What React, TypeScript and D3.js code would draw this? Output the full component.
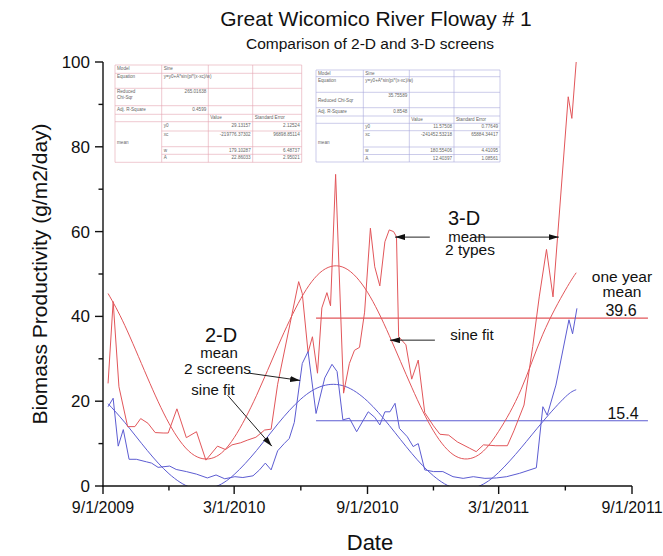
import React from 'react';
import * as d3 from 'd3';

const WIDTH = 663;
const HEIGHT = 556;

const xTickLabels = ['9/1/2009', '3/1/2010', '9/1/2010', '3/1/2011', '9/1/2011'];
const xMinorTicks = ['12/1/2009', '6/1/2010', '12/1/2010', '6/1/2011'];
const yTicks = [0, 20, 40, 60, 80, 100];
const yMinorTicks = [10, 30, 50, 70, 90];

// 3-D mean (2 types)
const redDates = ['2009-09-08','2009-09-15','2009-09-23','2009-10-05','2009-10-15','2009-10-23','2009-11-02','2009-11-12','2009-11-23','2009-11-30','2009-12-12','2009-12-25','2010-01-08','2010-01-21','2010-02-06','2010-02-17','2010-02-26','2010-03-10','2010-03-19','2010-03-31','2010-04-12','2010-04-21','2010-04-30','2010-05-29','2010-06-03','2010-06-11','2010-06-17','2010-06-24','2010-06-30','2010-07-07','2010-07-12','2010-07-19','2010-07-30','2010-08-07','2010-08-14','2010-08-21','2010-08-28','2010-09-05','2010-09-11','2010-09-18','2010-09-25','2010-10-01','2010-10-07','2010-10-11','2010-10-14','2010-10-24','2010-11-01','2010-11-10','2010-11-19','2010-12-01','2010-12-10','2010-12-22','2011-01-03','2011-01-20','2011-01-29','2011-02-08','2011-02-25','2011-03-13','2011-03-22','2011-04-05','2011-04-17','2011-04-26','2011-05-06','2011-05-15','2011-06-05','2011-06-10','2011-06-16'];
const redValues = [24.2,43.5,23.4,14,14,15.9,14.8,12.6,12.5,12.5,18.2,11.4,12.8,6.1,9.4,8.6,9.7,10.2,10.8,11.5,13.2,13.4,24,48.2,45.4,31.5,35.2,26.6,42,45.6,42.5,73.5,21.9,28.9,32,32.7,41,60.8,51.7,47.2,57.6,60.4,60,58.8,35.2,33.3,25.2,29.7,17.3,14.2,12.2,12,10.4,8.9,8.1,9.7,9.5,9.5,13,19.1,32.9,44.6,55.8,44.6,91.8,86.7,100];

// 2-D mean (2 screens)
const blueDates = ['2009-09-08','2009-09-15','2009-09-22','2009-09-29','2009-10-07','2009-10-17','2009-10-31','2009-11-07','2009-11-16','2009-12-02','2009-12-11','2009-12-25','2010-01-08','2010-01-23','2010-02-04','2010-02-16','2010-03-02','2010-03-13','2010-03-27','2010-04-05','2010-04-13','2010-04-21','2010-04-30','2010-05-09','2010-05-16','2010-05-23','2010-06-03','2010-06-11','2010-06-22','2010-07-04','2010-07-14','2010-07-21','2010-07-29','2010-08-07','2010-08-17','2010-09-02','2010-09-11','2010-09-18','2010-09-25','2010-10-02','2010-10-09','2010-10-15','2010-10-26','2010-11-03','2010-11-10','2010-11-19','2010-12-01','2010-12-14','2010-12-28','2011-01-11','2011-01-25','2011-02-10','2011-02-26','2011-03-12','2011-03-30','2011-04-22','2011-05-01','2011-05-07','2011-05-19','2011-06-06','2011-06-11','2011-06-17'];
const blueValues = [18.7,20.7,9.4,13.3,6.3,6.3,5.7,5.4,4.4,4.7,3.9,3.4,2.8,1.9,2.6,1.7,2.2,2.0,2.4,3.8,5.4,3.8,8.3,10,11.2,15,28.9,31.7,17.1,25.5,28.7,27,15.6,16,12.8,17.5,16.2,14.4,17.5,17.5,19.5,13.6,11.6,9.3,10,3.8,3.4,3.4,2.2,1.8,2.2,1.8,1.9,2.2,3.0,4.3,18.7,16.7,23.8,39.2,35.9,41.9];

// sine fit curves
const fitDates = ['2009-09-08','2009-10-01','2009-11-01','2009-12-01','2010-01-01','2010-02-01','2010-03-01','2010-04-01','2010-05-01','2010-06-01','2010-07-01','2010-08-01','2010-09-01','2010-10-01','2010-11-01','2010-12-01','2011-01-01','2011-02-01','2011-03-01','2011-04-01','2011-05-01','2011-06-01','2011-06-16'];
const redFit = [45.4,37.9,25.7,14.8,7.7,6.7,11.4,21.4,33.2,44.2,50.8,51.4,45.7,35.5,23.3,13.0,7.0,7.3,12.9,22.8,35.8,46.2,50.3];
const blueFit = [19.4,15.0,8.4,2.9,-0.4,-0.3,2.7,8.4,14.8,20.5,23.6,23.5,20.0,14.3,7.7,2.4,-0.6,-0.1,3.2,9.0,15.2,21.0,22.7];

// one year means
const meanDates = ['2010-06-22', '2011-09-23'];
const redMean = 39.6;
const blueMean = 15.4;

// fit tables
const table1Rows = [
  ['Model', 'Sine', '', ''],
  ['Equation', 'y=y0+A*sin(pi*(x-xc)/w)', '', ''],
  ['Reduced\nChi-Sqr', '265.01638', '', ''],
  ['Adj. R-Square', '0.4599', '', ''],
  ['', '', 'Value', 'Standard Error'],
  ['', 'y0', '29.13157', '2.12524'],
  ['', 'xc', '-219776.37302', '96898.85114'],
  ['', 'w', '179.10287', '6.48737'],
  ['', 'A', '22.86033', '2.95021'],
];
const table2Rows = [
  ['Model', 'Sine', '', ''],
  ['Equation', 'y=y0+A*sin(pi*(x-xc)/w)', '', ''],
  ['Reduced Chi-Sqr', '35.75589', '', ''],
  ['Adj. R-Square', '0.8548', '', ''],
  ['', '', 'Value', 'Standard Error'],
  ['', 'y0', '11.57508', '0.77649'],
  ['', 'xc', '-241452.53218', '65884.34417'],
  ['', 'w', '180.55406', '4.41095'],
  ['', 'A', '12.40397', '1.08561'],
];

const FONT = '"Liberation Sans", Arial, Helvetica, sans-serif';
const RED = '#e2565a';
const BLUE = '#5c5cd2';

const parseIso = d3.timeParse('%Y-%m-%d');
const parseUs = d3.timeParse('%m/%d/%Y');

function FitTable({ x0, y0, colW, rowH, rows, stroke }) {
  const colX = [x0];
  colW.forEach((w) => colX.push(colX[colX.length - 1] + w));
  const rowY = [y0];
  rowH.forEach((h) => rowY.push(rowY[rowY.length - 1] + h));
  const right = colX[colX.length - 1];
  const bottom = rowY[rowY.length - 1];
  const fs = 4.6;
  const els = [];
  rowY.forEach((yy, i) => {
    const startX = i > 5 && i < rowY.length - 1 ? colX[1] : x0;
    els.push(<line key={'h' + i} x1={startX} x2={right} y1={yy} y2={yy} stroke={stroke} strokeWidth={0.6} />);
  });
  colX.forEach((xx, i) => {
    els.push(<line key={'v' + i} x1={xx} x2={xx} y1={y0} y2={bottom} stroke={stroke} strokeWidth={0.6} />);
  });
  rows.forEach((row, ri) => {
    row.forEach((txt, ci) => {
      if (!txt) return;
      const isNum = /^-?[0-9.]+$/.test(txt);
      const tx = isNum ? colX[ci + 1] - 2 : colX[ci] + 2;
      const anchor = isNum ? 'end' : 'start';
      const lines = txt.split('\n');
      const singleCentered = ci === 0 && lines.length === 1 && rowH[ri] > 12 && txt.indexOf('Chi') >= 0;
      lines.forEach((ln, li) => {
        const ty = singleCentered ? rowY[ri] + rowH[ri] / 2 + 1.6 : rowY[ri] + 5 + li * 5.2;
        els.push(
          <text key={'t' + ri + '_' + ci + '_' + li} x={tx} y={ty} fontSize={fs} fill="#666" textAnchor={anchor} fontFamily={FONT}>{ln}</text>
        );
      });
    });
  });
  const meanY = (rowY[5] + bottom) / 2 + 1.6;
  els.push(<text key="mean" x={x0 + 2} y={meanY} fontSize={fs} fill="#666" fontFamily={FONT}>mean</text>);
  return (
    <g>
      <rect x={x0} y={y0} width={right - x0} height={bottom - y0} fill="#fff" />
      {els}
    </g>
  );
}

export default function App() {
  const x = d3.scaleTime()
    .domain([parseUs(xTickLabels[0]), parseUs(xTickLabels[xTickLabels.length - 1])])
    .range([103, 632]);
  const y = d3.scaleLinear().domain([0, 100]).range([486, 62]);

  const red = redDates.map((d, i) => [parseIso(d), redValues[i]]);
  const blue = blueDates.map((d, i) => [parseIso(d), blueValues[i]]);
  const rFit = fitDates.map((d, i) => [parseIso(d), redFit[i]]);
  const bFit = fitDates.map((d, i) => [parseIso(d), blueFit[i]]);

  const line = d3.line().x((d) => x(d[0])).y((d) => y(d[1]));
  const smooth = d3.line().x((d) => x(d[0])).y((d) => y(d[1])).curve(d3.curveNatural);

  const mx0 = x(parseIso(meanDates[0]));
  const mx1 = x(parseIso(meanDates[1]));

  const ax = (s) => x(parseIso(s));

  return (
    <svg width={WIDTH} height={HEIGHT} style={{ position: 'absolute', left: 0, top: 0 }} fontFamily={FONT}>
      <defs>
        <clipPath id="plot">
          <rect x={103} y={60} width={529} height={426} />
        </clipPath>
        <marker id="ah" viewBox="0 0 10 6" refX="10" refY="3" markerWidth="10" markerHeight="6" markerUnits="userSpaceOnUse" orient="auto">
          <path d="M0,0L10,3L0,6Z" fill="#111" />
        </marker>
      </defs>
      <rect x={0} y={0} width={WIDTH} height={HEIGHT} fill="#fff" />

      <text x={376} y={26} fontSize={21} textAnchor="middle" fill="#111">Great Wicomico River Floway # 1</text>
      <text x={370} y={49} fontSize={15.5} textAnchor="middle" fill="#111">Comparison of 2-D and 3-D screens</text>

      <FitTable x0={115} y0={65} colW={[46.7, 46.6, 44.4, 49]} rowH={[8.3, 15, 17.4, 8.6, 7.4, 9.3, 15.7, 7.6, 8]} rows={table1Rows} stroke="#e4a4b0" />
      <FitTable x0={316} y0={70} colW={[47.3, 46, 44.7, 46]} rowH={[6.7, 15.6, 15.4, 8.3, 7.3, 7.4, 16.3, 7.5, 7.5]} rows={table2Rows} stroke="#aaaadc" />

      {/* mean lines */}
      <line x1={mx0} x2={mx1} y1={y(redMean)} y2={y(redMean)} stroke={RED} strokeWidth={1.1} />
      <line x1={mx0} x2={mx1} y1={y(blueMean)} y2={y(blueMean)} stroke={BLUE} strokeWidth={1.1} />

      <g clipPath="url(#plot)" fill="none" strokeWidth={1} strokeLinejoin="round">
        <path d={smooth(rFit)} stroke={RED} />
        <path d={smooth(bFit)} stroke={BLUE} />
        <path d={line(red)} stroke={RED} />
        <path d={line(blue)} stroke={BLUE} />
      </g>

      {/* axes */}
      <g stroke="#111" strokeWidth={1.4}>
        <line x1={103} x2={103} y1={62} y2={486.7} />
        <line x1={102.3} x2={632} y1={486} y2={486} />
        {yTicks.map((t) => <line key={'yt' + t} x1={95} x2={103} y1={y(t)} y2={y(t)} />)}
        {yMinorTicks.map((t) => <line key={'ym' + t} x1={98.5} x2={103} y1={y(t)} y2={y(t)} />)}
        {xTickLabels.map((t) => <line key={'xt' + t} x1={x(parseUs(t))} x2={x(parseUs(t))} y1={486} y2={494} />)}
        {xMinorTicks.map((t) => <line key={'xm' + t} x1={x(parseUs(t))} x2={x(parseUs(t))} y1={486} y2={490.5} />)}
      </g>
      {yTicks.map((t) => (
        <text key={'yl' + t} x={90} y={y(t) + 6} fontSize={17} textAnchor="end" fill="#111">{t}</text>
      ))}
      {xTickLabels.map((t) => (
        <text key={'xl' + t} x={x(parseUs(t))} y={513} fontSize={16} textAnchor="middle" fill="#111">{t}</text>
      ))}
      <text x={370} y={550} fontSize={22} textAnchor="middle" fill="#111">Date</text>
      <text transform={`translate(47,${(62 + 486) / 2}) rotate(-90)`} fontSize={21} textAnchor="middle" fill="#111">Biomass Productivity  (g/m2/day)</text>

      {/* annotations */}
      <text x={464} y={224.5} fontSize={20} textAnchor="middle" fill="#111">3-D</text>
      <text x={467} y={241.5} fontSize={15} textAnchor="middle" fill="#111">mean</text>
      <text x={470} y={255} fontSize={15.5} textAnchor="middle" fill="#111">2 types</text>
      <line x1={ax('2010-11-26')} x2={ax('2010-10-09')} y1={y(58.7)} y2={y(58.7)} stroke="#222" strokeWidth={1} markerEnd="url(#ah)" />
      <line x1={ax('2011-01-28')} x2={ax('2011-05-23')} y1={y(58.7)} y2={y(58.7)} stroke="#222" strokeWidth={1} markerEnd="url(#ah)" />
      <text x={472} y={340} fontSize={15} textAnchor="middle" fill="#111">sine fit</text>
      <line x1={ax('2010-12-03')} x2={ax('2010-10-02')} y1={y(34.4)} y2={y(34.4)} stroke="#222" strokeWidth={1} markerEnd="url(#ah)" />

      <text x={221} y={342} fontSize={20} textAnchor="middle" fill="#111">2-D</text>
      <text x={219} y={358} fontSize={15} textAnchor="middle" fill="#111">mean</text>
      <text x={217.5} y={373.5} fontSize={15.5} textAnchor="middle" fill="#111">2 screens</text>
      <line x1={x(parseIso('2010-03-22'))} x2={ax('2010-05-31')} y1={y(26.6)} y2={y(24.9)} stroke="#222" strokeWidth={1} markerEnd="url(#ah)" />
      <text x={213} y={395} fontSize={15} textAnchor="middle" fill="#111">sine fit</text>
      <line x1={ax('2010-02-20')} x2={ax('2010-04-22')} y1={y(21.4)} y2={y(9.4)} stroke="#222" strokeWidth={1} markerEnd="url(#ah)" />

      <text x={622} y={282} fontSize={15.5} textAnchor="middle" fill="#111">one year</text>
      <text x={622} y={296.5} fontSize={15.5} textAnchor="middle" fill="#111">mean</text>
      <text x={621} y={316} fontSize={16} textAnchor="middle" fill="#111">39.6</text>
      <text x={623} y={418.5} fontSize={16} textAnchor="middle" fill="#111">15.4</text>
    </svg>
  );
}
